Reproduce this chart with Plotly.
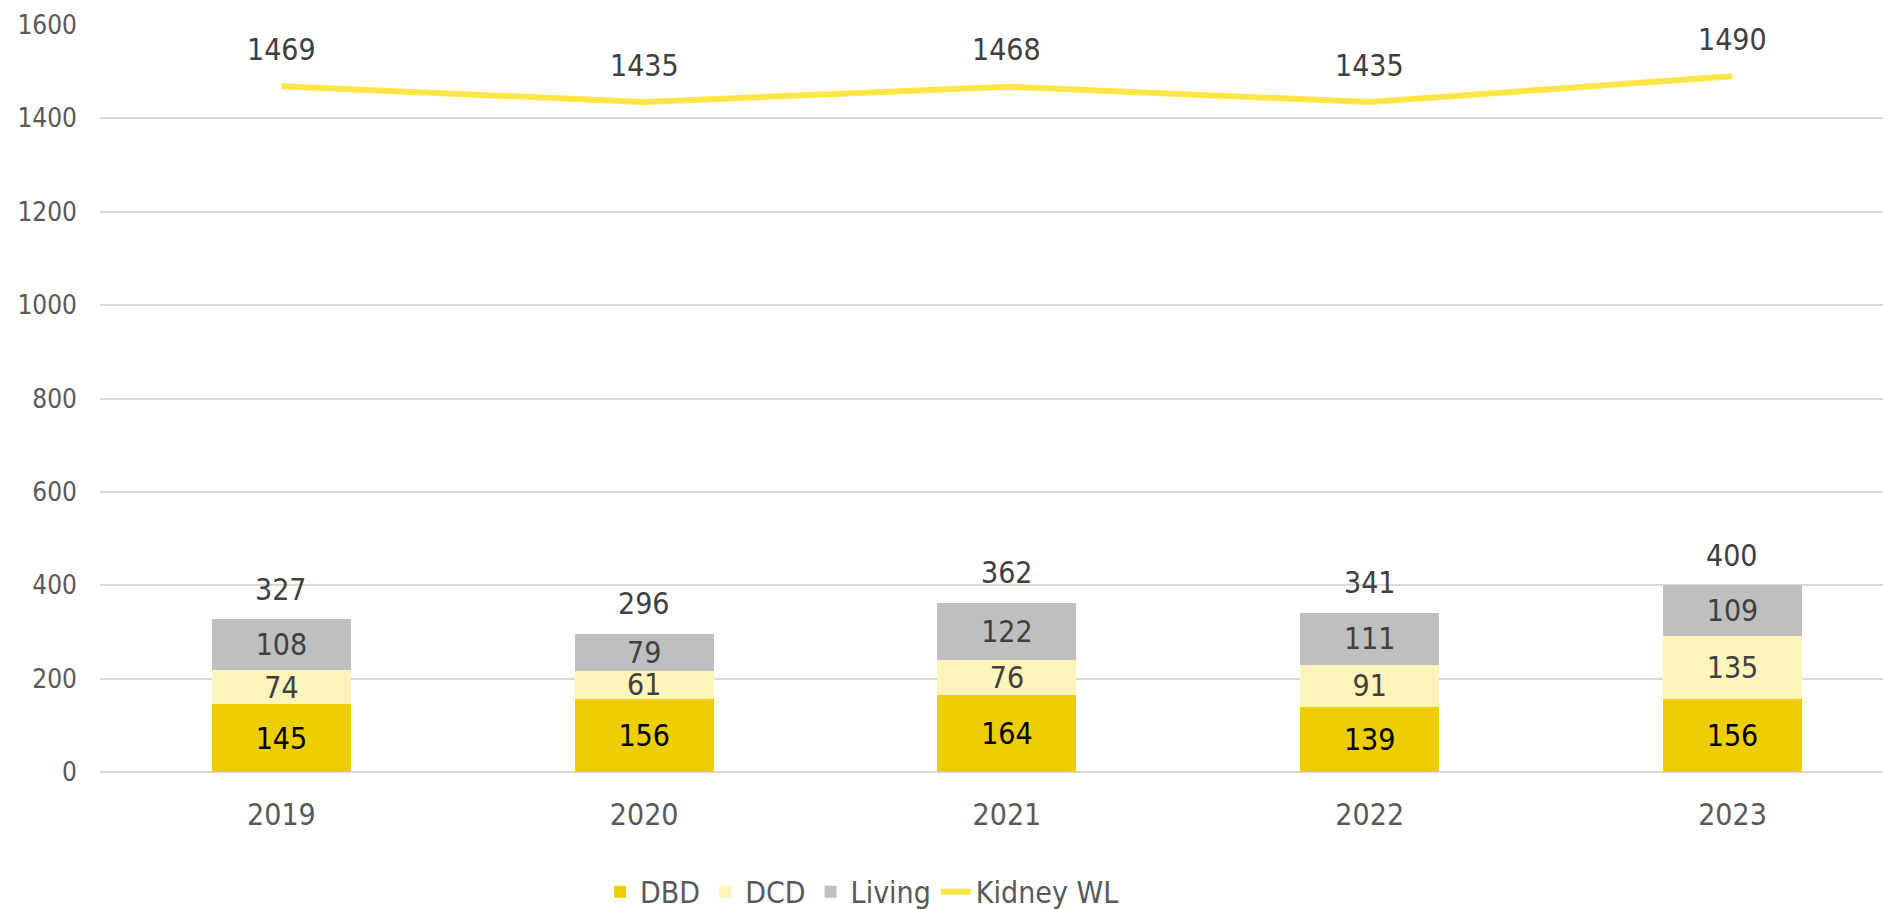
import plotly.graph_objects as go

years = ["2019", "2020", "2021", "2022", "2023"]
dbd = [145, 156, 164, 139, 156]
dcd = [74, 61, 76, 91, 135]
living = [108, 79, 122, 111, 109]
kidney_wl = [1469, 1435, 1468, 1435, 1490]
totals = [a + b + c for a, b, c in zip(dbd, dcd, living)]

FONT = "Tahoma, 'DejaVu Sans Condensed', 'Liberation Sans', Arial, sans-serif"
BAR_W = 0.383

fig = go.Figure()
common = dict(width=BAR_W, textposition="inside", insidetextanchor="middle",
              constraintext="none", textangle=0)
fig.add_trace(go.Bar(name="DBD", x=years, y=dbd, marker=dict(color="#EDCE00", line=dict(width=0)),
                     text=[str(v) for v in dbd],
                     textfont=dict(size=30, color="#000000", family=FONT), **common))
fig.add_trace(go.Bar(name="DCD", x=years, y=dcd, marker=dict(color="#FFF4B9", line=dict(width=0)),
                     text=[str(v) for v in dcd],
                     textfont=dict(size=30, color="#404040", family=FONT), **common))
fig.add_trace(go.Bar(name="Living", x=years, y=living, marker=dict(color="#BFBFBF", line=dict(width=0)),
                     text=[str(v) for v in living],
                     textfont=dict(size=30, color="#404040", family=FONT), **common))
fig.add_trace(go.Scatter(name="Kidney WL", x=years, y=kidney_wl, mode="lines",
                         line=dict(color="#FFE545", width=6)))

for i, t in enumerate(totals):
    fig.add_annotation(x=i, y=t, text=str(t), showarrow=False, yshift=30,
                       font=dict(size=30, color="#404040", family=FONT))
for i, v in enumerate(kidney_wl):
    fig.add_annotation(x=i, y=v, text=str(v), showarrow=False, yshift=37,
                       font=dict(size=30, color="#404040", family=FONT))

fig.update_layout(
    barmode="stack",
    width=1883, height=901,
    margin=dict(l=92, r=0, t=17, b=137, autoexpand=False),
    paper_bgcolor="white", plot_bgcolor="white",
    font=dict(family=FONT, color="#595959"),
    uniformtext=dict(minsize=30, mode="show"),
    showlegend=True,
    legend=dict(orientation="h", xanchor="center", x=0.4255, yanchor="bottom", y=-0.195,
                font=dict(size=30, color="#595959", family=FONT), traceorder="normal",
                itemwidth=30, bgcolor="rgba(0,0,0,0)"),
)
fig.update_xaxes(type="category", range=[-0.5, 4.437], showgrid=False, showline=False, zeroline=False,
                 tickfont=dict(size=30, color="#595959", family=FONT), ticks="",
                 ticklabelstandoff=22, automargin=False)
fig.update_yaxes(range=[0, 1600], dtick=200, showgrid=True, gridcolor="#D9D9D9", gridwidth=1.5,
                 zeroline=True, zerolinecolor="#D9D9D9", zerolinewidth=1.5, showline=False,
                 tickfont=dict(size=26, color="#595959", family=FONT), ticks="",
                 ticklabelstandoff=22, automargin=False)

fig.write_html("out.html")
